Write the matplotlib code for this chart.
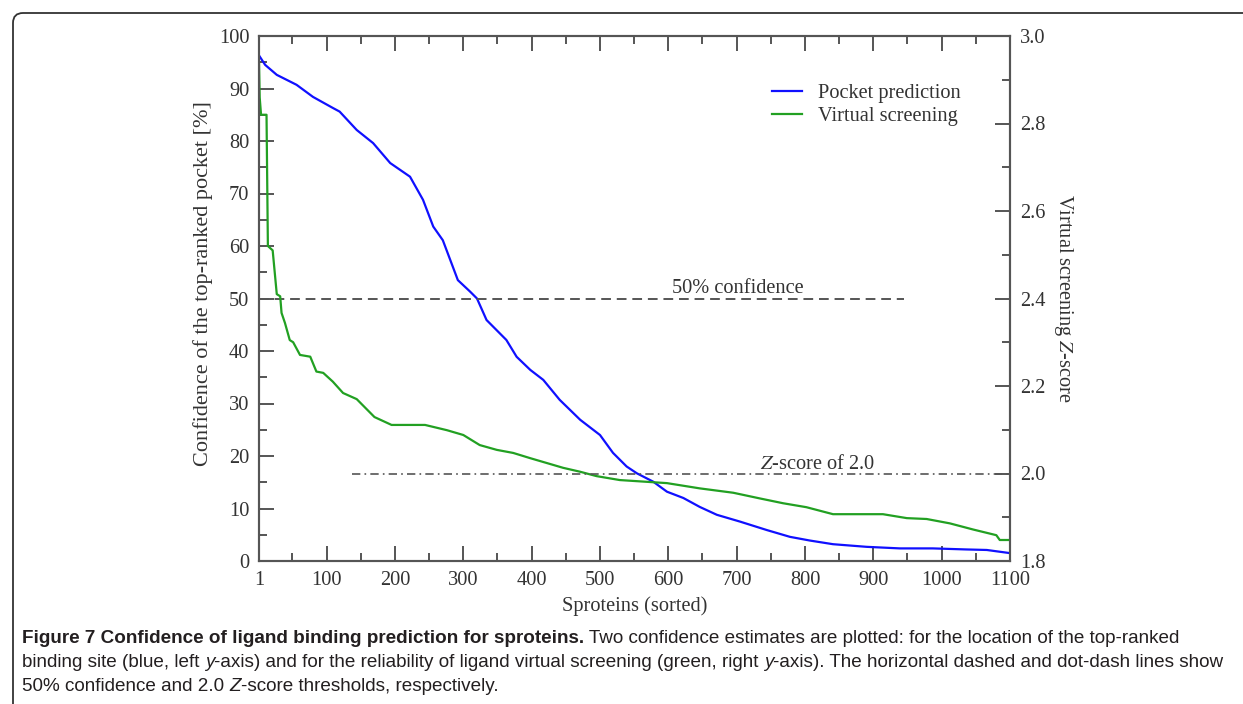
import numpy as np
import matplotlib
matplotlib.use("Agg")
import matplotlib.pyplot as plt
from matplotlib.patches import FancyBboxPatch
from matplotlib import font_manager

# data
pocket_x = [1, 10, 27, 56, 80, 109, 119, 144, 168, 193, 222, 241, 256, 270, 292, 310, 320,
            334, 363, 378, 398, 417, 441, 471, 500, 519, 539, 554, 578, 598, 622, 646, 671,
            705, 744, 778, 807, 841, 890, 939, 987, 1036, 1066, 1100]
pocket_conf = [96.3, 94.5, 92.6, 90.7, 88.4, 86.3, 85.6, 82.1, 79.6, 75.8, 73.2, 68.8, 63.7,
               61.1, 53.5, 51.3, 50.0, 45.9, 42.1, 38.9, 36.4, 34.5, 30.7, 26.9, 24.0, 20.6,
               18.0, 16.7, 15.1, 13.2, 12.0, 10.3, 8.8, 7.5, 5.9, 4.6, 3.9, 3.2, 2.7, 2.4,
               2.4, 2.2, 2.1, 1.5]

vs_x = [1, 2, 4, 12, 14, 21, 27, 32, 34, 39, 46, 51, 61, 76, 85, 95, 109, 124, 144, 170,
        195, 244, 276, 300, 324, 349, 373, 398, 422, 446, 471, 495, 529, 598, 646, 695, 734,
        768, 802, 841, 914, 949, 978, 1012, 1046, 1080, 1085, 1100]
vs_z = [2.94, 2.86, 2.82, 2.82, 2.52, 2.51, 2.41, 2.405, 2.367, 2.344, 2.305, 2.30, 2.271,
        2.267, 2.233, 2.23, 2.21, 2.184, 2.170, 2.129, 2.111, 2.111, 2.099, 2.088, 2.065,
        2.054, 2.047, 2.035, 2.024, 2.013, 2.004, 1.994, 1.985, 1.978, 1.966, 1.956, 1.943,
        1.932, 1.923, 1.907, 1.907, 1.898, 1.896, 1.886, 1.872, 1.859, 1.848, 1.848]

conf_threshold = 50
conf_span = [1, 945]
z_threshold = 2.0
z_span = [137, 1100]

xticks = [1, 100, 200, 300, 400, 500, 600, 700, 800, 900, 1000, 1100]

plt.rcParams['font.family'] = ['Liberation Serif', 'DejaVu Serif']
plt.rcParams['mathtext.fontset'] = 'stix'

names = {f.name for f in font_manager.fontManager.ttflist}
cap_font = 'Liberation Sans Narrow' if 'Liberation Sans Narrow' in names else 'Liberation Sans'
cap_size = 16 if cap_font == 'Liberation Sans Narrow' else 13.6

fig = plt.figure(figsize=(12.43, 7.04), dpi=100)
ax = fig.add_axes([259/1243, 1-561/704, 751/1243, 525/704])
ax2 = ax.twinx()

axc = '#555555'
txtc = '#333333'
fs = 14.7

l1, = ax.plot(pocket_x, pocket_conf, color='#1010ff', lw=1.6, label='Pocket prediction')
l2, = ax2.plot(vs_x, vs_z, color='#22a022', lw=1.6, label='Virtual screening')

ax.plot(conf_span, [conf_threshold]*2, color=axc, lw=1.4, dashes=(5, 3))
ax2.plot(z_span, [z_threshold]*2, color=axc, lw=1.2, dashes=(5, 2.5, 1, 2.5))
ax.text(702, 51.0, '50% confidence', fontsize=fs, color=txtc, ha='center', va='baseline')
ax2.text(818, 2.011, '$\\mathit{Z}$-score of 2.0', fontsize=fs, color=txtc,
         ha='center', va='baseline')

ax.set_xlim(1, 1100)
ax.set_ylim(0, 100)
ax2.set_ylim(1.8, 3.0)
ax.set_xticks(xticks)
ax.set_xticks(np.arange(50, 1100, 100), minor=True)
ax.set_yticks(np.arange(0, 101, 10))
ax.set_yticks(np.arange(5, 100, 10), minor=True)
ax2.set_yticks(np.arange(1.8, 3.01, 0.2))
ax2.set_yticks(np.arange(1.9, 3.0, 0.2), minor=True)
ax2.set_yticklabels(['%.1f' % v for v in np.arange(1.8, 3.01, 0.2)])

for a in (ax, ax2):
    for s in a.spines.values():
        s.set_color(axc)
        s.set_linewidth(1.5)
ax.tick_params(which='both', direction='in', top=True, right=False, colors=axc,
               labelcolor=txtc, labelsize=fs, width=1.4)
ax.tick_params(which='major', length=11, pad=7)
ax.tick_params(which='minor', length=5.5)
ax2.tick_params(which='both', direction='in', colors=axc, labelcolor=txtc,
                labelsize=fs, width=1.4)
ax2.tick_params(which='major', length=11, pad=7)
ax2.tick_params(which='minor', length=5.5)

ax.set_xlabel('Sproteins (sorted)', fontsize=fs, color=txtc, labelpad=4.5)
ax.set_ylabel('Confidence of the top-ranked pocket [%]', fontsize=16, color=txtc, va='center')
ax.yaxis.set_label_coords(-0.0746, 0.5276)
ax2.set_ylabel('Virtual screening $\\mathit{Z}$-score', fontsize=fs, color=txtc,
               rotation=270, va='bottom', labelpad=5)

ax2.legend(handles=[l1, l2], loc='upper left', bbox_to_anchor=(0.658, 0.944),
           frameon=False, fontsize=fs, handlelength=1.5, handletextpad=0.8,
           labelspacing=0.2, labelcolor=txtc)

# rounded frame, open to the right and bottom
frame = FancyBboxPatch((0.13, -0.5), 13.0, 7.41, boxstyle='round,pad=0,rounding_size=0.1',
                       transform=fig.dpi_scale_trans, fill=False, ec='#333333', lw=1.3)
fig.patches.append(frame)

# caption with mixed styles
renderer = fig.canvas.get_renderer()
W, H = fig.bbox.width, fig.bbox.height


def caption_line(pieces, x0, ybase):
    x = x0
    for txt, weight, style in pieces:
        t = fig.text(x / W, 1 - ybase / H, txt, fontsize=cap_size, color='#231f20',
                     family=cap_font, weight=weight, style=style, va='baseline')
        x += t.get_window_extent(renderer).width


caption_line([('Figure 7 Confidence of ligand binding prediction for sproteins.', 'bold', 'normal'),
              (' Two confidence estimates are plotted: for the location of the top-ranked',
               'normal', 'normal')], 22, 643)
caption_line([('binding site (blue, left ', 'normal', 'normal'), ('y', 'normal', 'italic'),
              ('-axis) and for the reliability of ligand virtual screening (green, right ',
               'normal', 'normal'),
              ('y', 'normal', 'italic'),
              ('-axis). The horizontal dashed and dot-dash lines show', 'normal', 'normal')],
             22, 667)
caption_line([('50% confidence and 2.0 ', 'normal', 'normal'), ('Z', 'normal', 'italic'),
              ('-score thresholds, respectively.', 'normal', 'normal')], 22, 691)

fig.savefig('out.png', dpi=100)
